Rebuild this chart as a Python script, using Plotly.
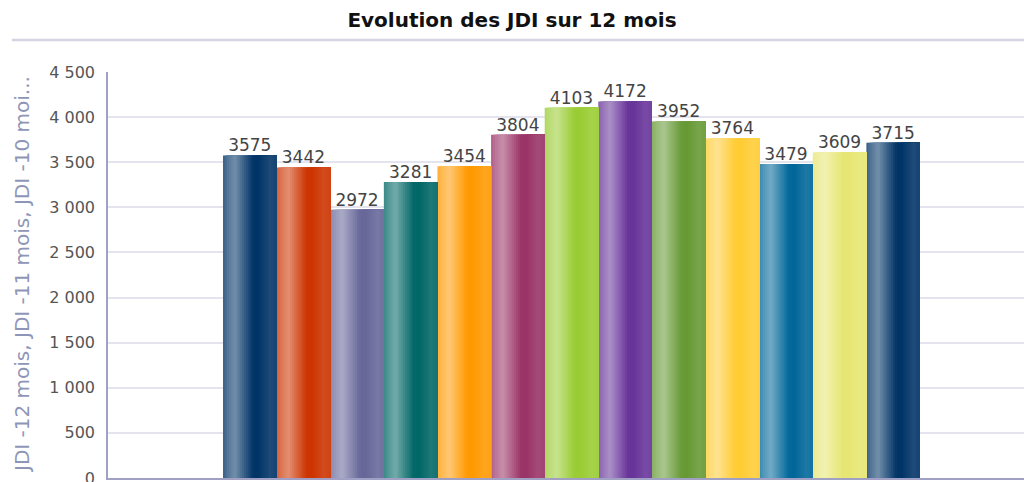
import numpy as np
import plotly.graph_objects as go

title_text = "Evolution des JDI sur 12 mois"
series_names = ["JDI -12 mois", "JDI -11 mois", "JDI -10 mois", "JDI -9 mois", "JDI -8 mois",
                "JDI -7 mois", "JDI -6 mois", "JDI -5 mois", "JDI -4 mois", "JDI -3 mois",
                "JDI -2 mois", "JDI -1 mois", "JDI"]
values = [3575, 3442, 2972, 3281, 3454, 3804, 4103, 4172, 3952, 3764, 3479, 3609, 3715]
base_colors = ["#003366", "#cc3300", "#666699", "#006666", "#ff9900", "#993366", "#99cc33",
               "#663399", "#669933", "#ffcc33", "#006699", "#e6e673", "#003366"]
y_title = "JDI -12 mois, JDI -11 mois, JDI -10 moi..."
tick_vals = [0, 500, 1000, 1500, 2000, 2500, 3000, 3500, 4000, 4500]

def hex2rgb(h):
    h = h.lstrip("#")
    return np.array([int(h[i:i + 2], 16) for i in (0, 2, 4)], dtype=float)

# horizontal gradient profile: amount of white mixed in across bar width
prof_t = [0.0, 0.08, 0.22, 0.55, 0.65, 0.88, 1.0]
prof_w = [0.22, 0.32, 0.45, 0.02, 0.0, 0.12, 0.08]

K = 28
n = len(values)
xs = np.arange(n)
fig = go.Figure()
for k in range(K):
    t0 = k / K
    t = (k + 0.5) / K
    w = float(np.interp(t, prof_t, prof_w))
    cols = []
    for c in base_colors:
        rgb = hex2rgb(c) * (1 - w) + 255 * w
        cols.append("rgb(%d,%d,%d)" % tuple(rgb.round().astype(int)))
    width = 1.0 - t0
    fig.add_trace(go.Bar(
        x=xs - 0.5 + t0 + width / 2, y=values, width=width,
        marker=dict(color=cols, line=dict(width=0)),
        hoverinfo="skip", showlegend=False,
    ))

fig.add_trace(go.Scatter(
    x=xs, y=values, mode="text", text=[str(v) for v in values],
    textposition="top center",
    textfont=dict(family="DejaVu Sans", size=17, color="#444444"),
    cliponaxis=False, showlegend=False, hoverinfo="skip",
))

fig.update_layout(
    width=1024, height=482,
    margin=dict(l=108, r=0, t=72, b=4),
    paper_bgcolor="white", plot_bgcolor="white",
    barmode="overlay",
    separators=", ",
    showlegend=False,
    title=dict(text="<b>%s</b>" % title_text, x=0.5, xanchor="center", y=1 - 20 / 482, yanchor="middle",
               font=dict(family="DejaVu Sans", size=20, color="#111111")),
    xaxis=dict(range=[-2.645, 14.44], showticklabels=False, showgrid=False, zeroline=False,
               showline=True, linecolor="#a0a0c4", linewidth=2, ticks=""),
    yaxis=dict(range=[0, 4500], tickvals=tick_vals, tickformat=",d", showgrid=True,
               gridcolor="#e4e4ee", gridwidth=1.5, zeroline=False, showline=True,
               linecolor="#a0a0c4", linewidth=1.5, ticks="", automargin=False,
               ticklabeloverflow="allow",
               tickfont=dict(family="DejaVu Sans", size=16, color="#555555"), ticklabelstandoff=8),
    annotations=[dict(text=y_title, textangle=-90, xref="paper", yref="paper",
                      x=(22 - 108) / 916, y=0.5, xanchor="center", yanchor="middle",
                      showarrow=False, font=dict(family="DejaVu Sans", size=20, color="#8e96b8"))],
    shapes=[dict(type="line", xref="paper", yref="paper", x0=(12 - 108) / 916, x1=1.0,
                 y0=(478 - 40) / 406, y1=(478 - 40) / 406, line=dict(color="#d4d4e2", width=2.5))],
)

fig.write_html("out.html", config={"displayModeBar": False},
               post_script="document.body.style.margin='0';document.body.style.overflow='hidden';")
